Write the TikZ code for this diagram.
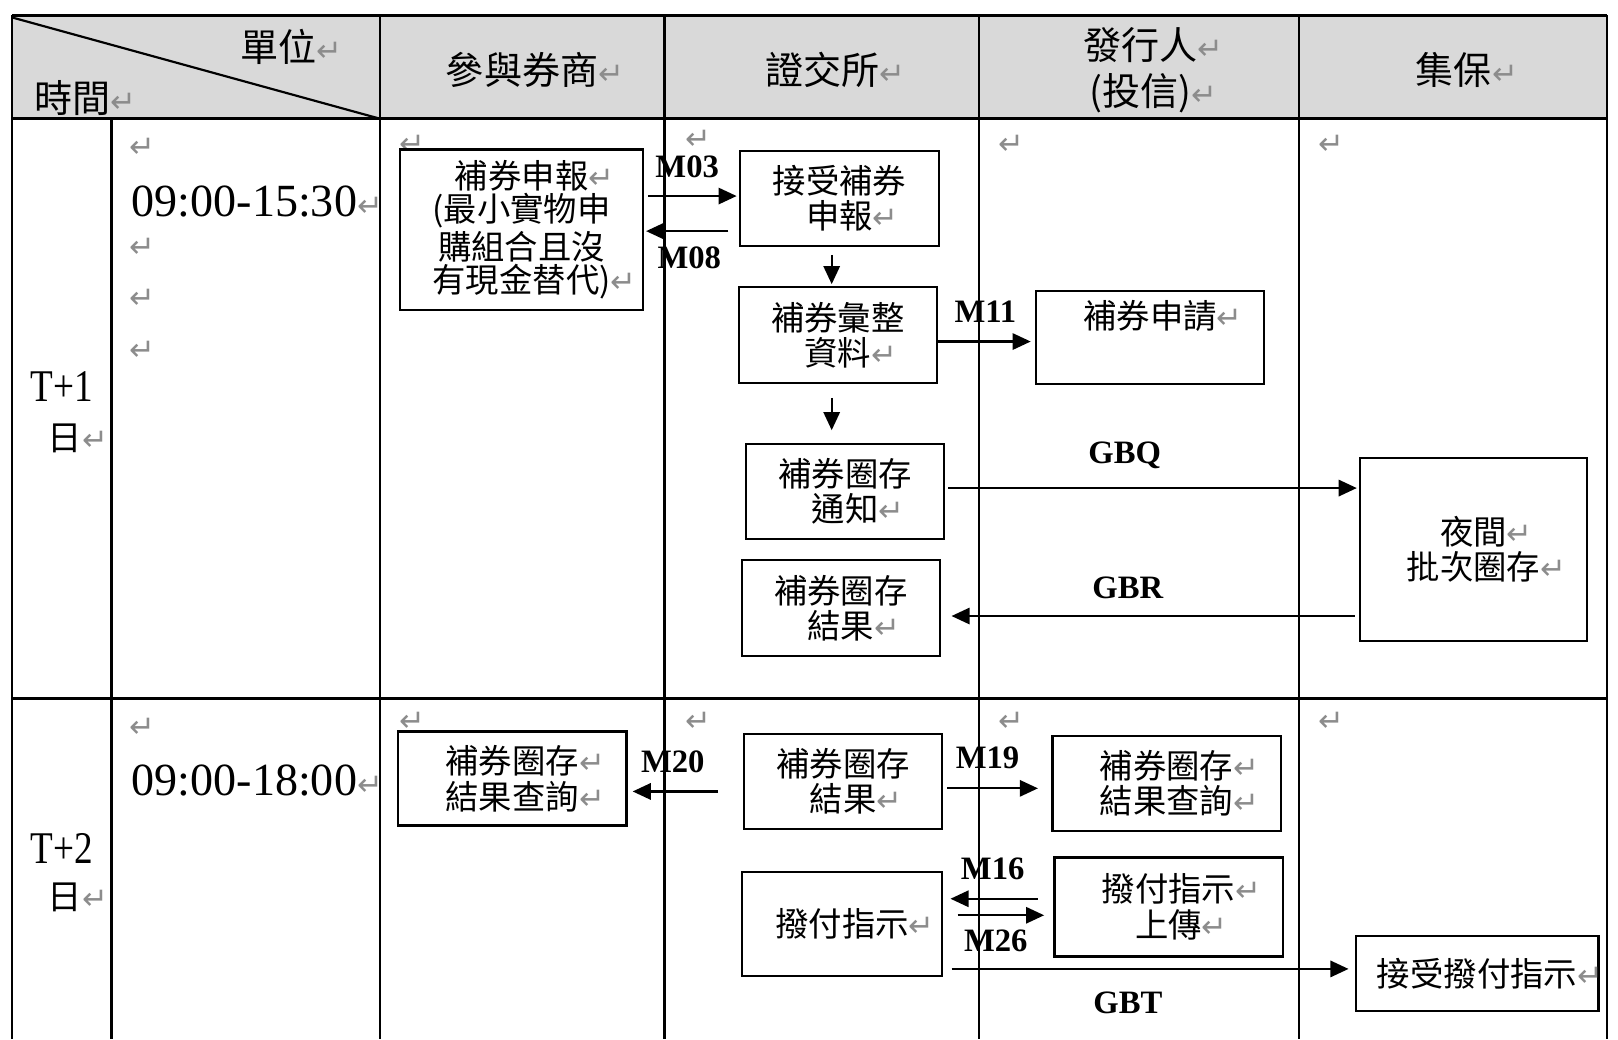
\documentclass[tikz,border=0pt]{standalone}
\usepackage{fontspec}
\setmainfont{Liberation Serif}
\newfontfamily\cjk{Noto Sans CJK TC}
\newfontfamily\symf{DejaVu Sans}
\newfontfamily\narrowserif[FakeStretch=0.82]{Liberation Serif}
\usetikzlibrary{arrows.meta}

\newcommand\ret{\rlap{\symf\fontsize{8.5}{9}\selectfont\textcolor{black!45}{↵}}}
\newcommand\headfont{\cjk\fontsize{10.5}{12.8}\selectfont}
\newcommand\boxfont{\cjk\fontsize{9.2}{9.8}\selectfont}

\tikzset{
  procbox/.style={draw, line width=0.6pt, align=center, inner sep=0pt, font=\boxfont},
  headtext/.style={align=center, inner sep=0pt, font=\headfont},
  daytext/.style={align=center, inner sep=0pt, font=\narrowserif\fontsize{12.5}{14.2}\selectfont},
  slottext/.style={anchor=west, inner sep=0pt, font=\fontsize{12.7}{14}\selectfont},
  msglabel/.style={inner sep=0pt, font=\bfseries\fontsize{9}{10}\selectfont},
  retmark/.style={inner sep=0pt, text=black!45, font=\symf\fontsize{8.5}{9}\selectfont},
  flow/.style={-{Triangle[length=5pt,width=4.5pt]}, line width=0.6pt},
  grid/.style={line width=0.6pt}
}

\begin{document}
\begin{tikzpicture}[x=0.01cm, y=-0.01cm]
	\useasboundingbox (0,0) rectangle (1568,1007);

	% Header row
	\fill[black!15] (12,15) rectangle (1557,115);
	\draw[grid] (12,15) -- (1557,15);
	\draw[line width=1pt] (12,115) -- (1557,115);
	\draw[grid] (12,677) -- (1557,677);
	\draw[grid] (12,15) -- (12,1007);
	\draw[grid] (108,115) -- (108,1007);
	\foreach \x in {368,644,949,1259,1557}
		\draw[grid] (\x,15) -- (\x,1007);
	\draw[grid] (12,17) -- (368,115);

	\node[headtext] (unit) at (270,45) {單位\ret};
	\node[headtext] (time) at (70,95) {時間\ret};
	\node[headtext] (broker) at (506,68) {參與券商\ret};
	\node[headtext] (twse) at (797,68) {證交所\ret};
	\node[headtext] (issuer) at (1105,68) {發行人\ret\\(投信)\ret};
	\node[headtext] (tdcc) at (1409,68) {集保\ret};

	% Day and time columns
	\node[daytext] (day1) at (60,375) {T+1};
	\node[inner sep=0pt, font=\cjk\fontsize{9.5}{10}\selectfont] (day1b) at (63,425) {日\ret};
	\node[daytext] (day2) at (60,822) {T+2};
	\node[inner sep=0pt, font=\cjk\fontsize{9.5}{10}\selectfont] (day2b) at (63,870) {日\ret};
	\node[slottext] (slot1) at (127,195) {09:00-15:30\ret};
	\node[slottext] (slot2) at (127,756) {09:00-18:00\ret};

	% Empty paragraph marks
	\foreach \x/\y [count=\i] in {138/143, 138/240, 138/290, 138/340, 138/705,
		400/140, 677/136, 980/140, 1290/140, 400/700, 677/700, 980/700, 1290/700}
		\node[retmark] (rm\i) at (\x,\y) {↵};

	% T+1 boxes
	\node[procbox, minimum width=2.35cm, minimum height=1.55cm, font=\cjk\fontsize{9.2}{9}\selectfont] (a1) at (505.5,222.5)
		{補券申報\ret\\(最小實物申\\購組合且沒\\有現金替代)\ret};
	\node[procbox, minimum width=1.93cm, minimum height=0.92cm] (b1) at (813.5,192) {接受補券\\申報\ret};
	\node[procbox, minimum width=1.92cm, minimum height=0.93cm] (b2) at (812,325) {補券彙整\\資料\ret};
	\node[procbox, minimum width=2.21cm, minimum height=0.90cm] (c1) at (1114.5,327) {補券申請\ret\\\strut};
	\node[procbox, minimum width=1.92cm, minimum height=0.92cm] (b3) at (819,476) {補券圈存\\通知\ret};
	\node[procbox, minimum width=1.92cm, minimum height=0.93cm] (b4) at (815,589.5) {補券圈存\\結果\ret};
	\node[procbox, minimum width=2.20cm, minimum height=1.77cm] (d1) at (1428,532.5) {夜間\ret\\批次圈存\ret};

	% T+2 boxes
	\node[procbox, minimum width=2.21cm, minimum height=0.91cm] (a2) at (496.5,754.5) {補券圈存\ret\\結果查詢\ret};
	\node[procbox, minimum width=1.92cm, minimum height=0.92cm] (b5) at (817,757) {補券圈存\\結果\ret};
	\node[procbox, minimum width=2.21cm, minimum height=0.92cm] (c2) at (1130.5,759) {補券圈存\ret\\結果查詢\ret};
	\node[procbox, minimum width=1.94cm, minimum height=1.01cm] (b6) at (816,895.5) {撥付指示\ret};
	\node[procbox, minimum width=2.21cm, minimum height=0.96cm] (c3) at (1132.5,879) {撥付指示\ret\\上傳\ret};
	\node[procbox, minimum width=2.35cm, minimum height=0.73cm] (d2) at (1431.5,943.5) {接受撥付指示\ret};

	% T+1 messages
	\draw[flow, shorten <=0.04cm, shorten >=0.02cm] (a1.east |- 0,190) -- (b1.west |- 0,190);
	\draw[flow, shorten <=0.1cm, shorten >=0.02cm] (b1.west |- 0,224) -- (a1.east |- 0,224);
	\draw[flow, shorten <=0.08cm, shorten >=0.02cm] (b1.south -| 806,0) -- (b2.north -| 806,0);
	\draw[flow, shorten <=0.13cm, shorten >=0.12cm] (b2.south -| 806,0) -- (b3.north -| 806,0);
	\draw[flow, shorten >=0.04cm] (b2.east |- 0,331) -- (c1.west |- 0,331);
	\draw[flow, shorten <=0.03cm, shorten >=0.02cm] (b3.east |- 0,473) -- (d1.west |- 0,473);
	\draw[flow, shorten <=0.04cm, shorten >=0.1cm] (d1.west |- 0,597) -- (b4.east |- 0,597);

	\node[msglabel] (m03) at (666,162) {M03};
	\node[msglabel] (m08) at (668,250) {M08};
	\node[msglabel] (m11) at (955,302) {M11};
	\node[msglabel] (gbq) at (1090,441) {GBQ};
	\node[msglabel] (gbr) at (1093,570) {GBR};

	% T+2 messages
	\draw[flow, shorten <=0.24cm, shorten >=0.05cm] (b5.west |- 0,767) -- (a2.east |- 0,767);
	\draw[flow, shorten <=0.04cm, shorten >=0.13cm] (b5.east |- 0,764) -- (c2.west |- 0,764);
	\draw[flow, shorten <=0.15cm, shorten >=0.07cm] (c3.west |- 0,871) -- (b6.east |- 0,871);
	\draw[flow, shorten <=0.14cm, shorten >=0.09cm] (b6.east |- 0,887) -- (c3.west |- 0,887);
	\draw[flow, shorten <=0.08cm, shorten >=0.06cm] (b6.east |- 0,939) -- (d2.west |- 0,939);

	\node[msglabel] (m20) at (652,738) {M20};
	\node[msglabel] (m19) at (957,734) {M19};
	\node[msglabel] (m16) at (962,842) {M16};
	\node[msglabel] (m26) at (965,912) {M26};
	\node[msglabel] (gbt) at (1093,972) {GBT};

\end{tikzpicture}
\end{document}
